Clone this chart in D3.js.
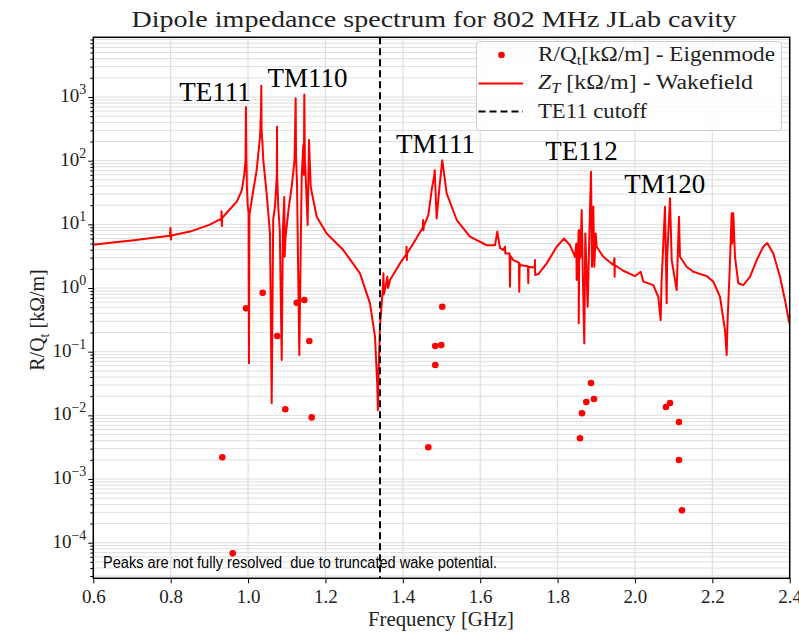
<!DOCTYPE html>
<html><head><meta charset="utf-8">
<script src="https://cdn.jsdelivr.net/npm/d3@7"></script>
<style>body{margin:0;background:#fff}</style>
</head><body><svg id="c" width="799" height="633"></svg>
<script>
// ---------- data ----------
const xTicks = [0.6,0.8,1.0,1.2,1.4,1.6,1.8,2.0,2.2,2.4];
const yTickExps = [-4,-3,-2,-1,0,1,2,3];
const cutoffFreq = 1.341;

const wakeFreq = [0.600,0.650,0.700,0.750,0.798,0.7995,0.8005,0.802,0.850,0.900,0.931,0.9315,0.9325,0.933,0.950,0.971,0.984,0.990,0.9935,0.9945,0.9955,0.997,0.999,1.0015,1.0024,1.0035,1.012,1.0223,1.031,1.0335,1.0342,1.035,1.037,1.0394,1.048,1.0567,1.0611,1.065,1.0696,1.0745,1.0748,1.0752,1.078,1.082,1.087,1.090,1.0937,1.0945,1.097,1.105,1.1128,1.120,1.1231,1.124,1.1265,1.1325,1.1386,1.1428,1.1442,1.1454,1.147,1.149,1.154,1.1575,1.1619,1.1774,1.2033,1.2462,1.2893,1.3152,1.3281,1.3340,1.3355,1.3375,1.341,1.3455,1.348,1.350,1.351,1.356,1.360,1.362,1.3669,1.3927,1.409,1.4095,1.4105,1.411,1.4271,1.452,1.4525,1.4535,1.454,1.4659,1.4746,1.4815,1.4824,1.4875,1.495,1.502,1.5134,1.5393,1.5736,1.6168,1.6383,1.6442,1.6512,1.6597,1.664,1.665,1.676,1.677,1.678,1.6856,1.700,1.701,1.702,1.7029,1.7235,1.7243,1.725,1.741,1.7416,1.742,1.7502,1.7719,1.7977,1.8166,1.8321,1.845,1.8485,1.8494,1.852,1.8546,1.8548,1.8563,1.859,1.8624,1.865,1.8691,1.8717,1.8778,1.8838,1.8864,1.889,1.8924,1.895,1.8985,1.9011,1.9182,1.944,1.947,1.9475,1.948,1.9699,2.0001,2.0148,2.0216,2.0474,2.0603,2.0665,2.0686,2.0777,2.082,2.0833,2.0906,2.095,2.1079,2.1138,2.1164,2.1337,2.1508,2.1854,2.2025,2.2198,2.2327,2.2371,2.2392,2.245,2.2500,2.2515,2.2542,2.2586,2.2671,2.280,2.2973,2.3147,2.3317,2.342,2.3575,2.3749,2.3878,2.399];
const wakeVal = [4.8,5.2,5.6,6.1,6.6,8.8,5.8,6.7,7.7,9.8,12.3,16.0,9.4,12.6,16.5,22.7,34.6,60,100,700,130,40,20,15,0.066,14,30,71,238,600,1500,300,200,102,30.7,7.2,0.0155,12,18.9,60,341,60,19,8,0.074,8,27,3.1,6.4,18,39,100,953,120,44,0.089,56,176,60,1100,100,56,9.8,211,39,13.2,7.2,3.95,1.70,0.575,0.172,0.03,0.012,0.05,0.25,0.58,0.9,1.7,0.8,1.1,1.5,1.0,1.34,2.44,3.4,4.45,2.75,3.5,5.0,9.0,11.7,8.1,9.3,14,34.6,60,71,12.4,40,102,30.7,11.7,6.4,4.7,4.7,7.7,4.25,3.95,4.45,3.5,3.5,1.05,3.2,2.75,2.5,0.875,2.4,2.3,2.2,1.19,2.16,2.1,2.75,1.6,1.66,2.44,4.45,6.0,4.7,3.1,5.0,1.34,2.5,8.1,0.279,8.1,3,16.8,1.92,0.135,7.2,0.51,16.8,67,2.16,18.9,2.16,7.2,4.45,3.1,2.3,2.93,1.5,2.3,1.87,1.54,1.80,1.26,1.11,0.73,0.314,1.19,18.9,0.575,3.1,25.6,2.75,0.93,13.2,3.1,2.16,1.80,1.54,1.26,0.73,0.219,0.089,0.279,2,14.9,5,14.9,3.1,1.19,1.11,1.50,2.75,4.45,5.1,3.5,1.50,0.65,0.279];

const eigFreq = [0.9334,0.9603,0.9947,1.0378,1.0756,1.0963,1.1257,1.1454,1.1583,1.1645,1.4659,1.4839,1.4839,1.4995,1.502,1.8579,1.8631,1.8742,1.8864,1.8941,2.0802,2.0906,2.1138,2.1138,2.1215];
const eigVal  = [0.00219,6.8e-5,0.48,0.84,0.176,0.01245,0.588,0.648,0.147,0.0093,0.00315,0.0617,0.123,0.127,0.508,0.00436,0.01077,0.0162,0.0322,0.0181,0.0135,0.0156,0.00786,0.00199,0.000322];

const modeLabels = ["TE111","TM110","TM111","TE112","TM120"];
const modeLabelFreq = [0.9146, 1.1536, 1.4845, 1.862, 2.077];
const modeLabelVal  = [865, 1450, 132, 102, 30.7];

// ---------- chart ----------
const svg = d3.select("#c");
const serif = "'Liberation Serif','Times New Roman',serif";
const x = d3.scaleLinear().domain([0.6,2.4]).range([93.3,789.7]);
const y = d3.scaleLog().domain([Math.pow(10,-4.559), Math.pow(10,3.938)]).range([578.3,37.3]);
const [x0,x1] = x.range(); const [yb,yt] = y.range();

// grid
const g = svg.append("g");
const minorVals = [];
for (let k=-5;k<=3;k++) for (let m=1;m<=9;m++){const v=m*Math.pow(10,k); if(v>y.domain()[0]&&v<y.domain()[1]) minorVals.push(v);}
g.selectAll("line.hg").data(minorVals).join("line")
  .attr("x1",x0).attr("x2",x1).attr("y1",d=>y(d)).attr("y2",d=>y(d))
  .attr("stroke","#dedede").attr("stroke-width",1);
g.selectAll("line.vg").data(xTicks).join("line")
  .attr("x1",d=>x(d)).attr("x2",d=>x(d)).attr("y1",yt).attr("y2",yb)
  .attr("stroke","#dedede").attr("stroke-width",1.2);

// clip
svg.append("clipPath").attr("id","clip").append("rect").attr("x",x0).attr("y",yt).attr("width",x1-x0).attr("height",yb-yt);

// wakefield curve
const wake = wakeFreq.map((f,i)=>[f,wakeVal[i]]);
svg.append("path").datum(wake).attr("clip-path","url(#clip)")
  .attr("d", d3.line().x(d=>x(d[0])).y(d=>y(d[1])))
  .attr("fill","none").attr("stroke","#ff0000").attr("stroke-width",2).attr("stroke-linejoin","round");

// eigenmode points
svg.append("g").selectAll("circle").data(eigFreq.map((f,i)=>[f,eigVal[i]])).join("circle")
  .attr("cx",d=>x(d[0])).attr("cy",d=>y(d[1])).attr("r",3.3).attr("fill","#ff0000");

// cutoff
svg.append("line").attr("x1",x(cutoffFreq)).attr("x2",x(cutoffFreq)).attr("y1",yt).attr("y2",yb)
  .attr("stroke","#000").attr("stroke-width",2).attr("stroke-dasharray","7,4");

// axes
const xAxis = d3.axisBottom(x).tickValues(xTicks).tickSize(5).tickFormat(d3.format(".1f"));
const gx = svg.append("g").attr("transform",`translate(0,${yb})`).call(xAxis);
gx.select(".domain").remove();
gx.selectAll("text").attr("font-family",serif).attr("font-size",19).attr("fill","#222").attr("dy","0.9em");
gx.selectAll("line").attr("stroke","#000");

const yMajor = yTickExps.map(e=>Math.pow(10,e));
const yAxis = d3.axisLeft(y).tickValues(yMajor).tickSize(5).tickFormat("");
const gy = svg.append("g").attr("transform",`translate(${x0},0)`).call(yAxis);
gy.select(".domain").remove();
gy.selectAll("line").attr("stroke","#000");
const yMinor = minorVals.filter(v=>!yMajor.includes(v));
svg.append("g").attr("transform",`translate(${x0},0)`).call(d3.axisLeft(y).tickValues(yMinor).tickSize(3).tickFormat(""))
  .call(s=>{s.select(".domain").remove(); s.selectAll("line").attr("stroke","#000");});
const yl = svg.append("g").selectAll("text").data(yTickExps).join("text")
  .attr("x",x0-7).attr("y",e=>y(Math.pow(10,e))+5).attr("text-anchor","end")
  .attr("font-family",serif).attr("font-size",19).attr("fill","#222");
yl.append("tspan").text("10");
yl.append("tspan").attr("dy",-8).attr("font-size",14).text(e=>e<0?"\u2212"+Math.abs(e):String(e));

// frame
svg.append("rect").attr("x",x0).attr("y",yt).attr("width",x1-x0).attr("height",yb-yt)
  .attr("fill","none").attr("stroke","#000").attr("stroke-width",1.5);

// title & labels
svg.append("text").attr("x",434).attr("y",27).attr("text-anchor","middle").attr("font-family",serif)
  .attr("font-size",24).attr("fill","#222").attr("textLength",605).attr("lengthAdjust","spacingAndGlyphs")
  .text("Dipole impedance spectrum for 802 MHz JLab cavity");
svg.append("text").attr("x",441).attr("y",626).attr("text-anchor","middle").attr("font-family",serif)
  .attr("font-size",20).attr("fill","#222").attr("textLength",146).attr("lengthAdjust","spacingAndGlyphs")
  .text("Frequency [GHz]");
const ylab = svg.append("text").attr("transform","translate(44,320) rotate(-90)").attr("text-anchor","middle")
  .attr("font-family",serif).attr("font-size",20).attr("fill","#222");
ylab.append("tspan").text("R/Q");
ylab.append("tspan").attr("dy",5).attr("font-size",14).text("t");
ylab.append("tspan").attr("dy",-5).text(" [k\u03A9/m]");

// mode annotations
svg.append("g").selectAll("text").data(modeLabels).join("text")
  .attr("x",(d,i)=>x(modeLabelFreq[i])).attr("y",(d,i)=>y(modeLabelVal[i]))
  .attr("text-anchor","middle").attr("font-family",serif).attr("font-size",27).attr("fill","#000").text(d=>d);

// note
svg.append("text").attr("x",103).attr("y",568).attr("font-family","'Liberation Sans',Arial,sans-serif")
  .attr("font-size",16).attr("fill","#000").attr("textLength",394).attr("lengthAdjust","spacingAndGlyphs")
  .attr("xml:space","preserve").text("Peaks are not fully resolved  due to truncated wake potential.");

// legend
const lg = svg.append("g");
lg.append("rect").attr("x",476.5).attr("y",41.5).attr("width",305).attr("height",89).attr("rx",3)
  .attr("fill","#fff").attr("fill-opacity",0.85).attr("stroke","#ccc");
lg.append("circle").attr("cx",501.5).attr("cy",55).attr("r",3.3).attr("fill","#ff0000");
lg.append("line").attr("x1",478.5).attr("x2",523).attr("y1",83.5).attr("y2",83.5).attr("stroke","#ff0000").attr("stroke-width",2);
lg.append("line").attr("x1",478.5).attr("x2",523).attr("y1",111.5).attr("y2",111.5).attr("stroke","#000").attr("stroke-width",2).attr("stroke-dasharray","7,4");
const t1 = lg.append("text").attr("x",538).attr("y",61).attr("font-family",serif).attr("font-size",20).attr("fill","#222")
  .attr("textLength",237).attr("lengthAdjust","spacingAndGlyphs");
t1.append("tspan").text("R/Q");
t1.append("tspan").attr("dy",4).attr("font-size",14).text("t");
t1.append("tspan").attr("dy",-4).text("[k\u03A9/m] - Eigenmode");
const t2 = lg.append("text").attr("x",538).attr("y",89).attr("font-family",serif).attr("font-size",20).attr("fill","#222")
  .attr("textLength",215).attr("lengthAdjust","spacingAndGlyphs");
t2.append("tspan").attr("font-style","italic").text("Z");
t2.append("tspan").attr("dy",4).attr("font-size",14).attr("font-style","italic").text("T");
t2.append("tspan").attr("dy",-4).text(" [k\u03A9/m] - Wakefield");
lg.append("text").attr("x",538).attr("y",118).attr("font-family",serif).attr("font-size",20).attr("fill","#222")
  .attr("textLength",109).attr("lengthAdjust","spacingAndGlyphs").text("TE11 cutoff");
</script></body></html>
